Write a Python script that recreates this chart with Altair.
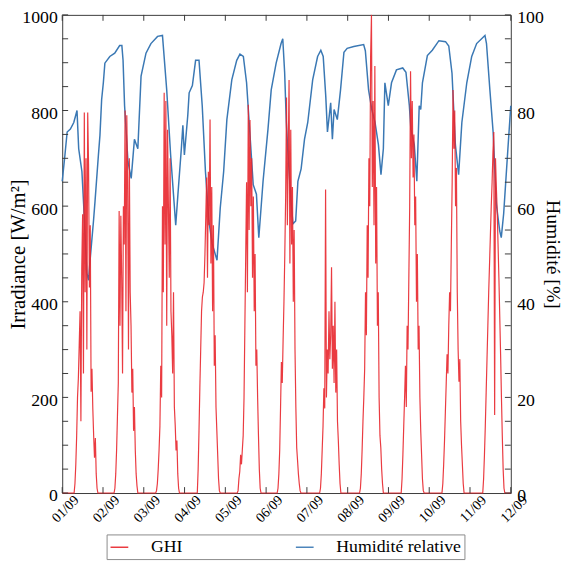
import altair as alt
import pandas as pd
from datetime import datetime, timedelta

# ---------------- data ----------------
BASE = datetime(2019, 9, 1)

series_names = ["GHI", "Humidité relative"]

# relative humidity: hours since 01/09 00:00, value in %
hum_hours = [0.0, 1.6, 2.9, 4.8, 6.8, 8.7, 9.7, 11.6, 12.6, 13.5, 14.5, 15.5, 16.4, 18.4, 19.3,
             21.3, 22.2, 23.2, 24.2, 25.1, 28.0, 30.9, 33.8, 35.1, 35.8, 36.7, 38.7, 40.6, 42.5,
             44.5, 46.4, 49.3, 52.2, 56.1, 59.0, 61.5, 63.8, 66.8, 68.1, 70.1, 71.0, 71.9, 73.9,
             74.7, 76.6, 78.5, 80.5, 82.4, 84.3, 86.3, 88.2, 91.1, 93.0, 95.0, 96.9, 99.8, 102.7,
             104.6, 106.6, 108.5, 110.4, 112.4, 114.3, 115.7, 118.2, 121.1, 123.0, 125.9, 128.8,
             129.8, 130.9, 131.9, 132.9, 134.8, 135.8, 137.4, 138.7, 140.6, 142.6, 144.5, 147.4,
             150.3, 152.2, 153.6, 155.1, 156.1, 158.0, 159.0, 160.0, 161.9, 163.8, 165.8, 167.7,
             171.6, 177.4, 178.4, 180.3, 182.2, 184.1, 186.1, 187.6, 189.0, 189.9, 191.9, 193.8,
             196.7, 200.4, 202.3, 204.3, 205.2, 207.2, 208.7, 210.1, 211.0, 212.0, 214.9, 217.8,
             221.7, 225.6, 227.5, 229.4, 231.4, 233.3, 235.2, 238.1, 241.0, 243.9, 248.8, 249.7,
             251.7, 253.6, 255.5, 257.5, 258.4, 259.8, 262.3, 264.0]
hum_values = [65.2, 70.7, 75.5, 76.1, 77.5, 80.0, 72.0, 67.2, 60.4, 53.4, 46.0, 44.5, 48.7, 56.9, 61.0,
              70.7, 74.8, 82.3, 85.8, 89.9, 91.3, 92.0, 93.6, 93.6, 90.5, 81.0, 69.3, 65.8, 74.0,
              72.0, 87.2, 92.0, 94.0, 95.5, 95.7, 84.3, 70.7, 56.0, 62.5, 72.0, 76.9, 70.7, 79.0,
              83.7, 85.2, 90.5, 90.5, 81.0, 67.2, 56.9, 52.2, 48.7, 59.6, 67.2, 78.1, 86.4, 90.5,
              91.8, 91.3, 85.8, 75.5, 64.5, 62.5, 53.4, 65.2, 76.1, 84.3, 89.9, 94.0,
              95.0, 88.0, 77.5, 70.7, 60.4, 56.3, 56.9, 65.2, 67.8, 74.0, 77.5, 86.4,
              91.3, 92.6, 91.3, 83.0, 75.5, 81.6, 74.0, 80.2, 78.1, 84.3, 92.2, 93.0,
              93.4, 93.8, 92.5, 84.3, 80.2, 77.5, 72.8, 66.6, 72.0, 85.8, 81.0, 85.8,
              88.5, 88.9, 88.0, 81.0, 76.1, 72.8, 65.2, 81.0, 80.2, 85.8, 91.5, 92.6,
              94.6, 94.4, 93.5, 87.8, 72.8, 66.6, 77.5, 85.8, 91.3, 94.0, 95.7, 94.0,
              84.3, 75.5, 60.4, 54.8, 53.4, 58.4, 72.0, 81.0]

# GHI sampled every half hour from 06:30 to 21:00 each day (W/m²)
ghi_hours = [6.5, 7.0, 7.5, 8.0, 8.5, 9.0, 9.5, 10.0, 10.5, 11.0, 11.5, 12.0, 12.5, 13.0, 13.5,
             14.0, 14.5, 15.0, 15.5, 16.0, 16.5, 17.0, 17.5, 18.0, 18.5, 19.0, 19.5, 20.0, 20.5, 21.0]
ghi_day01 = [0, 0, 20, 60, 120, 200, 240, 310, 380, 150, 470, 583, 250, 796, 420, 700, 300, 796, 687, 430, 560, 212, 260, 177, 120, 74, 115, 40, 10, 0]
ghi_day02 = [0, 10, 40, 90, 160, 230, 590, 350, 580, 450, 250, 600, 520, 800, 380, 790, 650, 300, 700, 420, 350, 210, 260, 130, 180, 90, 40, 15, 0, 0]
ghi_day03 = [0, 0, 5, 20, 50, 90, 140, 266, 200, 600, 420, 837, 520, 820, 350, 760, 600, 450, 700, 380, 330, 250, 420, 180, 142, 89, 110, 40, 10, 0]
ghi_day04 = [0, 0, 0, 50, 130, 220, 300, 380, 410, 420, 440, 500, 580, 660, 450, 672, 560, 781, 480, 640, 380, 560, 266, 330, 180, 130, 80, 30, 5, 0]
ghi_day05 = [0, 0, 5, 30, 45, 80, 60, 90, 120, 200, 350, 500, 650, 420, 812, 550, 780, 600, 700, 450, 620, 380, 500, 266, 300, 200, 120, 50, 10, 0]
ghi_day06 = [0, 10, 40, 90, 180, 274, 230, 320, 400, 500, 620, 827, 560, 700, 864, 480, 760, 520, 640, 400, 550, 300, 180, 95, 68, 40, 20, 5, 0, 0]
ghi_day07 = [0, 0, 0, 10, 40, 90, 140, 219, 177, 635, 200, 300, 250, 380, 280, 330, 472, 260, 350, 230, 400, 210, 300, 150, 110, 60, 20, 0, 0, 0]
ghi_day08 = [0, 0, 10, 40, 90, 150, 200, 260, 420, 330, 560, 450, 700, 600, 913, 1000, 640, 820, 560, 893, 480, 640, 350, 420, 200, 120, 95, 50, 20, 0]
ghi_day09 = [0, 0, 0, 30, 80, 140, 200, 266, 180, 350, 300, 450, 600, 882, 700, 820, 660, 750, 560, 620, 400, 500, 300, 350, 200, 130, 80, 30, 5, 0]
ghi_day10 = [0, 0, 0, 20, 60, 110, 170, 230, 290, 250, 350, 420, 380, 520, 650, 843, 720, 800, 600, 680, 420, 300, 233, 280, 150, 100, 60, 20, 0, 0]
ghi_day11 = [0, 0, 0, 30, 80, 140, 210, 280, 350, 420, 480, 540, 600, 650, 713, 755, 163, 700, 640, 590, 520, 450, 370, 290, 200, 120, 50, 10, 0, 0]
ghi_days = [ghi_day01, ghi_day02, ghi_day03, ghi_day04, ghi_day05, ghi_day06,
            ghi_day07, ghi_day08, ghi_day09, ghi_day10, ghi_day11]

day_ticks = ["2019-09-%02dT00:00:00" % d for d in range(1, 13)]
ghi_ticks = list(range(0, 1001, 50))
hum_ticks = list(range(0, 101, 5))
ghi_labels = [0, 200, 400, 600, 800, 1000]
hum_labels = [0, 20, 40, 60, 80, 100]

# ---------------- tables ----------------
def ts(h):
    return (BASE + timedelta(hours=h)).strftime("%Y-%m-%dT%H:%M:%S")

hum_df = pd.DataFrame({"t": [ts(h) for h in hum_hours], "v": hum_values, "s": series_names[1]})

g_t, g_v = [ts(0.0)], [0]
for d, vals in enumerate(ghi_days):
    for h, v in zip(ghi_hours, vals):
        g_t.append(ts(d * 24 + h))
        g_v.append(v)
g_t.append(ts(264.0))
g_v.append(0)
ghi_df = pd.DataFrame({"t": g_t, "v": g_v, "s": series_names[0]})

# ---------------- styling ----------------
FONT = "Liberation Serif"
FRAME = "#3a3a3a"
RED = "#e8262c"
BLUE = "#3a78b4"
W, H = 455, 485

xscale = alt.Scale(domain=[alt.DateTime(year=2019, month=9, date=1),
                           alt.DateTime(year=2019, month=9, date=12)], nice=False)
color_scale = alt.Scale(domain=series_names, range=[RED, BLUE])
legend = alt.Legend(orient="none", legendX=45, legendY=527, direction="horizontal", title=None,
                    symbolType="stroke", symbolSize=324, symbolStrokeWidth=1.5,
                    labelFont=FONT, labelFontSize=18, labelColor="black", labelOffset=22,
                    columnPadding=112, padding=3, strokeColor="#8a8a8a", fillColor="white",
                    labelLimit=300)

hum = alt.Chart(hum_df).mark_line(strokeWidth=1.5).encode(
    x=alt.X("t:T", scale=xscale, axis=None),
    y=alt.Y("v:Q", scale=alt.Scale(domain=[0, 100], nice=False),
            axis=alt.Axis(orient="right", values=hum_labels, format="d", tickSize=0, domain=False,
                          grid=False, labelPadding=6, labelOffset=3, labelFont=FONT,
                          labelFontSize=18, labelColor="black", title="Humidité [%]",
                          titleFont=FONT, titleFontSize=20, titleFontWeight="normal",
                          titleColor="black", titleAngle=90, titleX=42, titleY=H / 2,
                          titleBaseline="middle", titleAlign="center")),
    color=alt.Color("s:N", scale=color_scale, legend=legend),
)

ghi = alt.Chart(ghi_df).mark_line(strokeWidth=1.2, opacity=0.9).encode(
    x=alt.X("t:T", scale=xscale,
            axis=alt.Axis(format="%d/%m", values=day_ticks, labelAngle=315, labelAlign="center",
                          labelBaseline="middle", labelPadding=16, labelOffset=3,
                          labelFlush=False, labelOverlap=False, tickSize=0, domain=False,
                          grid=False, title=None, labelFont=FONT, labelFontSize=14,
                          labelColor="black")),
    y=alt.Y("v:Q", scale=alt.Scale(domain=[0, 1000], nice=False),
            axis=alt.Axis(orient="left", values=ghi_labels, format="d", tickSize=0, domain=False,
                          grid=False, labelPadding=5, labelOffset=3, labelFont=FONT,
                          labelFontSize=18, labelColor="black", title="Irradiance [W/m²]",
                          titleFont=FONT, titleFontSize=21, titleFontWeight="normal",
                          titleColor="black", titleAngle=270, titleX=-44, titleY=H / 2,
                          titleBaseline="middle", titleAlign="center")),
    color=alt.Color("s:N", scale=color_scale, legend=legend),
)

tick_left = alt.Chart(pd.DataFrame({"v": ghi_ticks})).mark_rule(color=FRAME, strokeWidth=1).encode(
    y=alt.Y("v:Q", scale=alt.Scale(domain=[0, 1000], nice=False), axis=None),
    x=alt.value(0), x2=alt.value(6))
tick_right = alt.Chart(pd.DataFrame({"v": hum_ticks})).mark_rule(color=FRAME, strokeWidth=1).encode(
    y=alt.Y("v:Q", scale=alt.Scale(domain=[0, 100], nice=False), axis=None),
    x=alt.value(W - 6), x2=alt.value(W))
tick_bottom = alt.Chart(pd.DataFrame({"t": day_ticks})).mark_rule(color=FRAME, strokeWidth=1).encode(
    x=alt.X("t:T", scale=xscale, axis=None), y=alt.value(H - 6), y2=alt.value(H))
tick_top = alt.Chart(pd.DataFrame({"t": day_ticks})).mark_rule(color=FRAME, strokeWidth=1).encode(
    x=alt.X("t:T", scale=xscale, axis=None), y=alt.value(0), y2=alt.value(6))

chart = alt.layer(hum, ghi, tick_left, tick_right, tick_bottom, tick_top).resolve_scale(
    y="independent"
).resolve_axis(
    x="independent", y="independent"
).properties(
    width=W, height=H,
    padding={"left": 55, "top": 3, "right": 56, "bottom": 67},
    autosize=alt.AutoSizeParams(type="none"),
).configure_view(stroke=FRAME, strokeWidth=1)

chart.save("out.html", embed_options={"renderer": "svg", "actions": False})
